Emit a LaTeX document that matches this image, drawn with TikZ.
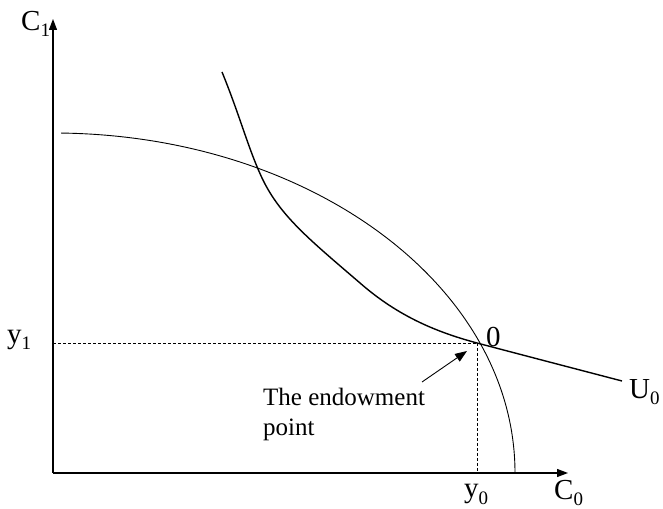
\documentclass[tikz,border=0pt]{standalone}
\usepackage{fontspec}
\setmainfont{Liberation Serif}
\usetikzlibrary{arrows.meta}
\newcommand{\lsub}[1]{\raisebox{-6pt}{\fontsize{19}{19}\selectfont #1}}
\tikzset{
  axisline/.style={line width=1.2pt,-{Triangle[length=11pt,width=8pt]}},
  guide/.style={line width=0.9pt,dash pattern=on 3pt off 2pt},
  lab/.style={inner sep=0pt,anchor=base west,font=\fontsize{29}{29}\selectfont},
  note/.style={inner sep=0pt,anchor=north west,align=left,font=\fontsize{25}{30}\selectfont},
}
\begin{document}
\begin{tikzpicture}[x=1pt,y=1pt]
\useasboundingbox (0,0) rectangle (663,508);
\coordinate (O) at (53,35);
\coordinate (Ytip) at (53,489);
\coordinate (Xtip) at (568,35);
\coordinate (E) at (477,165);
\coordinate (Ey) at (53,165);
\coordinate (Ex) at (477,35);
\coordinate (As) at (422,126);
\coordinate (Ae) at (467,157);
% axes
\draw[axisline] (O) -- (Ytip);
\draw[axisline] (O) -- (Xtip);
% guides
\draw[guide] (Ey) -- (E);
\draw[guide] (E) -- (Ex);
% production possibility frontier
\draw[line width=0.9pt] (61.06,374.95) arc[start angle=89,end angle=0,x radius=462,y radius=340];
% indifference curve
\draw[line width=1.4pt] (222,436) .. controls (240,392) and (248,360) .. (262,330)
  .. controls (280,292) and (310,268) .. (360,225)
  .. controls (400,190) and (440,175) .. (E)
  .. controls (530,151) and (580,138) .. (622,127);
% endowment arrow
\draw[line width=0.9pt,-{Triangle[length=12pt,width=9pt]}] (As) -- (Ae);
% labels
\node[lab] (c1) at (21,477) {C\lsub{1}};
\node[lab] (y1) at (7,164) {y\lsub{1}};
\node[lab] (y0) at (464,10) {y\lsub{0}};
\node[lab] (c0) at (554,9) {C\lsub{0}};
\node[lab] (u0) at (629,109) {U\lsub{0}};
\node[lab] (zero) at (486,161) {0};
\node[note] (endow) at (263,120) {The endowment\\point};
\end{tikzpicture}
\end{document}
